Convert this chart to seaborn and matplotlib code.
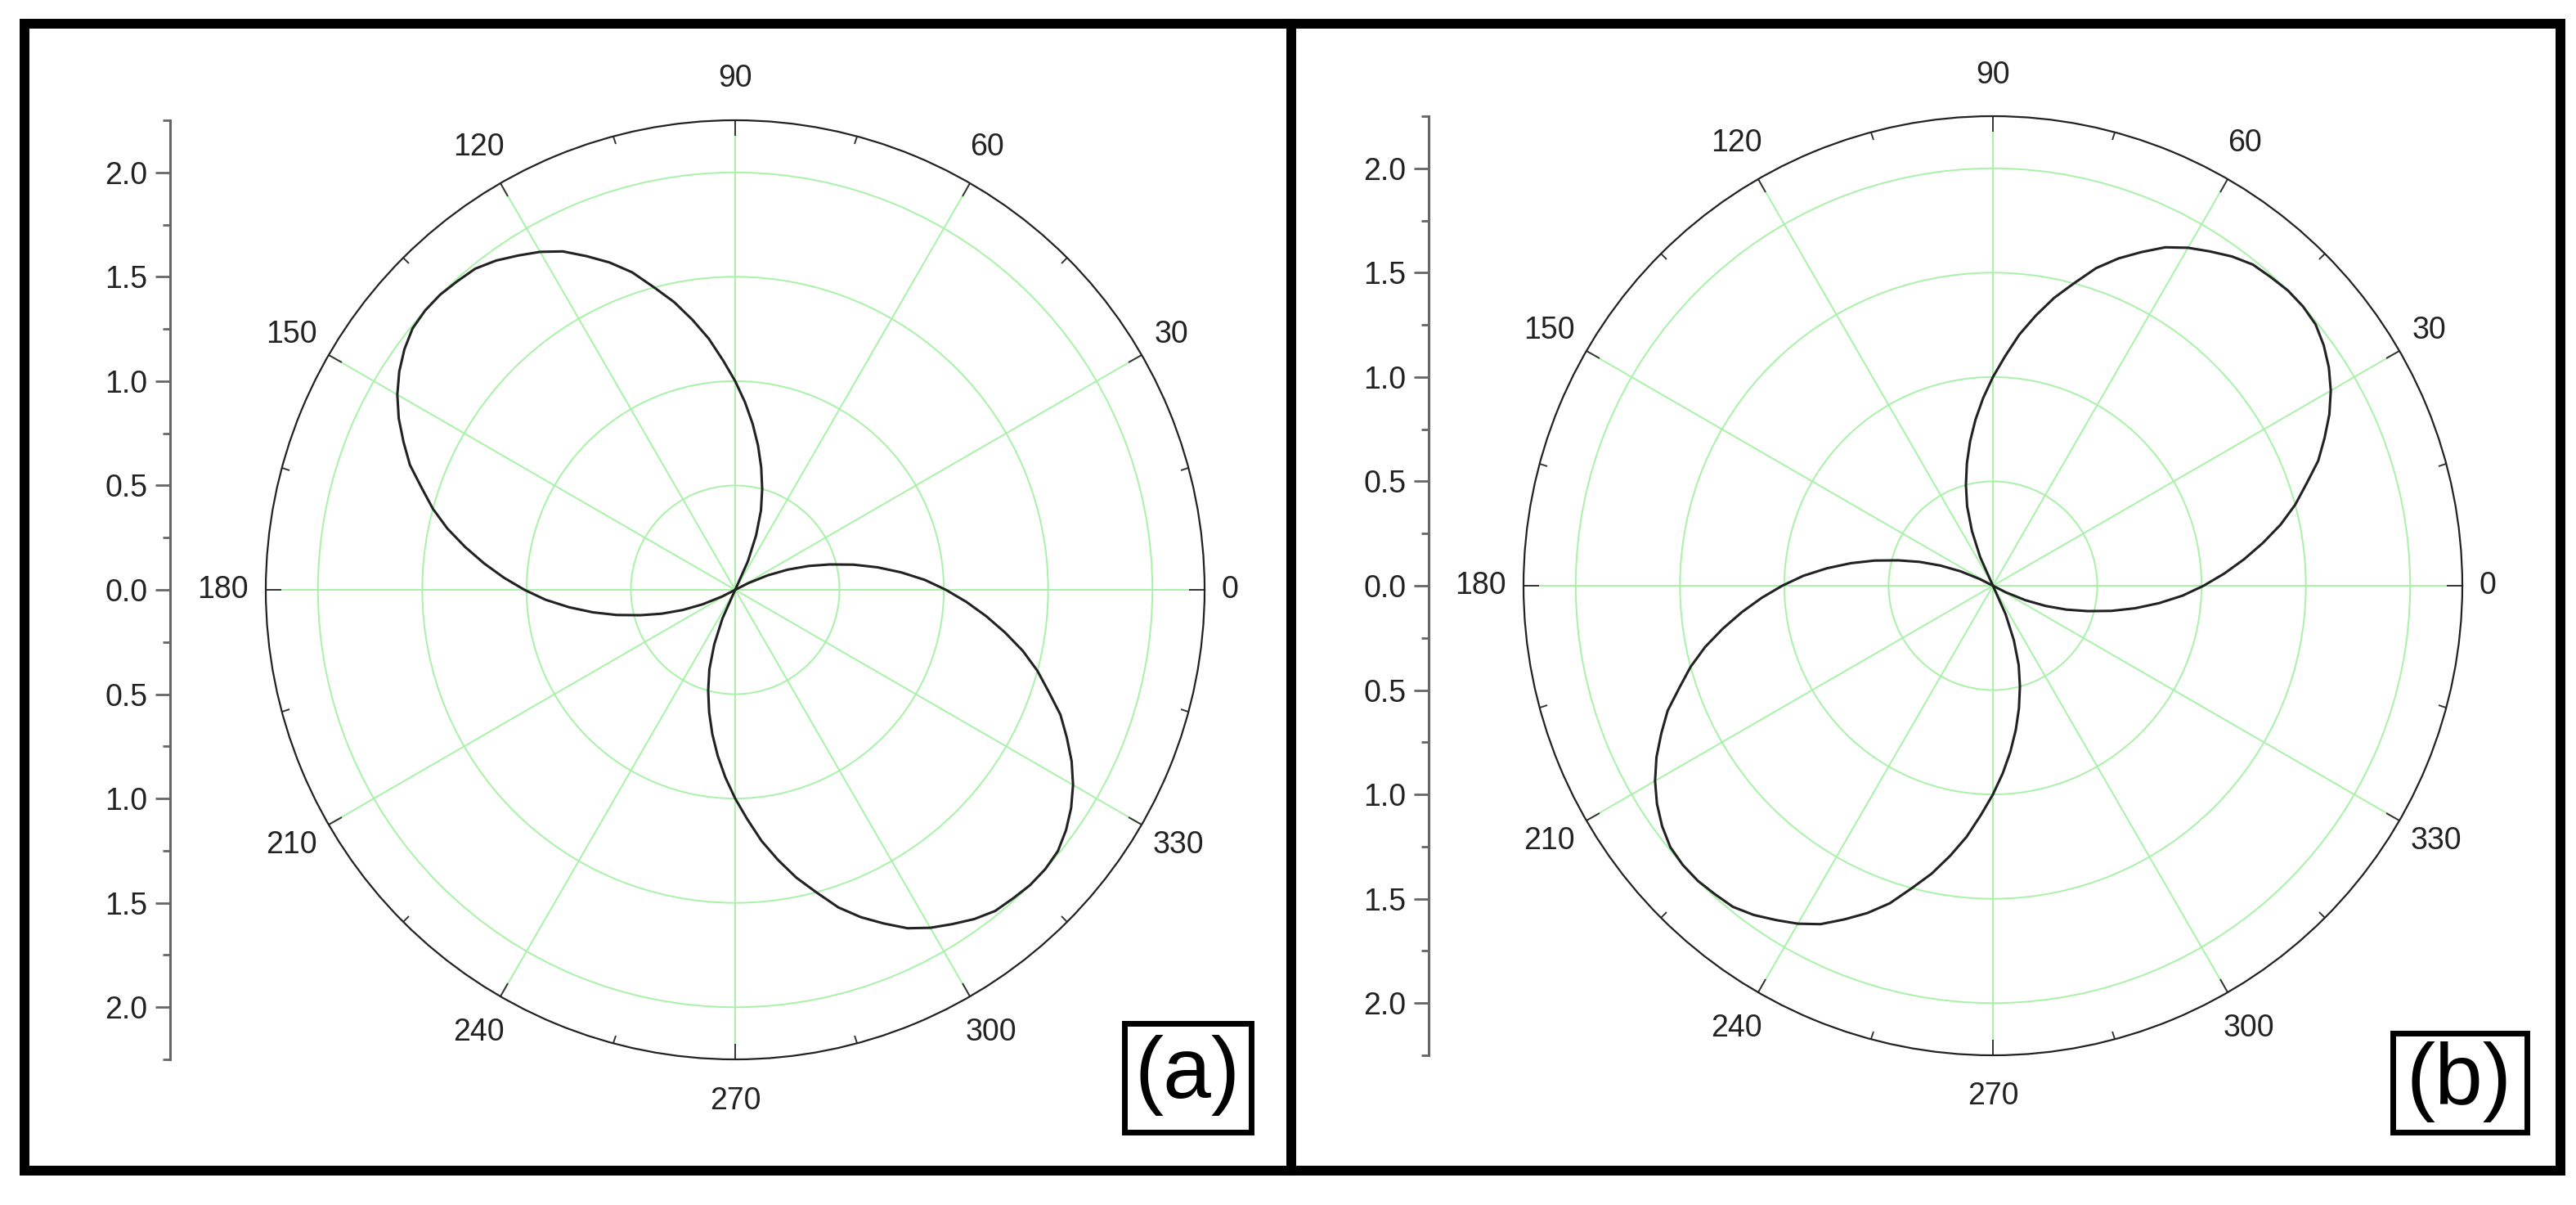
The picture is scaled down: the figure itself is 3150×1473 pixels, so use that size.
import numpy as np
import matplotlib
matplotlib.use('Agg')
import matplotlib.pyplot as plt
import seaborn as sns
from matplotlib.patches import Rectangle
from matplotlib.lines import Line2D

# lobe of panel (a): angle (deg) and radius
theta_a = [63, 66, 69, 72, 75, 78, 81, 84, 87, 90, 93, 96, 99, 102, 105, 108, 111,
           114, 117, 120, 123, 126, 129, 132, 135, 138, 141, 144, 147, 150, 153, 156,
           159, 162, 165, 168, 171, 174, 177, 180, 183, 186, 189, 192, 195, 198, 201,
           204, 207, 210]
r_a = [0.00, 0.15, 0.28, 0.40, 0.50, 0.60, 0.70, 0.80, 0.90, 1.00, 1.10, 1.21, 1.31,
       1.41, 1.50, 1.60, 1.68, 1.75, 1.82, 1.87, 1.91, 1.95, 1.98, 1.99, 2.00, 2.00,
       1.99, 1.96, 1.92, 1.87, 1.81, 1.74, 1.67, 1.58, 1.50, 1.41, 1.31, 1.21, 1.11,
       1.01, 0.91, 0.80, 0.69, 0.58, 0.47, 0.37, 0.27, 0.17, 0.07, 0.00]

# lobe of panel (b)
theta_b = [117, 114, 111, 108, 105, 102, 99, 96, 93, 90, 87, 84, 81, 78, 75, 72, 69,
           66, 63, 60, 57, 54, 51, 48, 45, 42, 39, 36, 33, 30, 27, 24, 21, 18, 15, 12,
           9, 6, 3, 0, -3, -6, -9, -12, -15, -18, -21, -24, -27, -30]
r_b = [0.00, 0.15, 0.28, 0.40, 0.50, 0.60, 0.70, 0.80, 0.90, 1.00, 1.10, 1.21, 1.31,
       1.41, 1.50, 1.60, 1.68, 1.75, 1.82, 1.87, 1.91, 1.95, 1.98, 1.99, 2.00, 2.00,
       1.99, 1.96, 1.92, 1.87, 1.81, 1.74, 1.67, 1.58, 1.50, 1.41, 1.31, 1.21, 1.11,
       1.01, 0.91, 0.80, 0.69, 0.58, 0.47, 0.37, 0.27, 0.17, 0.07, 0.00]

angle_ticks = [0, 30, 60, 90, 120, 150, 180, 210, 240, 270, 300, 330]
angle_labels = ['0', '30', '60', '90', '120', '150', '180', '210', '240', '270', '300', '330']
angle_minor = [15, 45, 75, 105, 135, 165, 195, 225, 255, 285, 315, 345]
ring_ticks = [0.5, 1.0, 1.5, 2.0]
scale_ticks = [-2.0, -1.5, -1.0, -0.5, 0.0, 0.5, 1.0, 1.5, 2.0]
scale_labels = ['2.0', '1.5', '1.0', '0.5', '0.0', '0.5', '1.0', '1.5', '2.0']
scale_minor = [-2.25, -1.75, -1.25, -0.75, -0.25, 0.25, 0.75, 1.25, 1.75, 2.25]
R_MAX = 2.25

plt.rcParams['font.family'] = ['Liberation Sans', 'DejaVu Sans']

W, H = 3150, 1473
R = 574  # circle radius in px
FS = 27
FS_PX = FS * 100 / 72
GREEN = '#a8f2a8'
TXT = '#222222'
AXGRAY = '#666666'

fig = plt.figure(figsize=(W / 100, H / 100), dpi=100)
fig.patch.set_facecolor('white')


def fx(px):
    return px / W


def fy(py):
    return 1 - py / H


def draw_panel(cx, cy, scale_x, theta, r, tag, box, tag_xy):
    ax = fig.add_axes([fx(cx - R), fy(cy + R), 2 * R / W, 2 * R / H], projection='polar')
    ax.set_facecolor('none')
    ax.set_ylim(0, R_MAX)
    ax.set_yticks(ring_ticks)
    ax.set_yticklabels([])
    ax.set_xticks(np.deg2rad(angle_ticks))
    ax.set_xticklabels([])
    ax.set_xticks(np.deg2rad(angle_minor), minor=True)
    ax.grid(True, which='major', color=GREEN, lw=1.4)
    # "top" ticks sit on the outer circle of a polar axes
    ax.tick_params(axis='x', which='both', bottom=False, top=True)
    ax.tick_params(axis='x', which='major', direction='in', length=13.5, width=1.4, color='#333333')
    ax.tick_params(axis='x', which='minor', direction='in', length=7, width=1.4, color='#333333')
    ax.tick_params(axis='y', length=0)
    ax.spines['polar'].set_color('#222222')
    ax.spines['polar'].set_linewidth(1.6)

    # two lobes, the second one is the first turned by 180 deg
    for shift in (0, 180):
        sns.lineplot(x=np.deg2rad(np.array(theta) + shift), y=r, ax=ax, sort=False,
                     estimator=None, color='#222222', lw=2.2)
    ax.set_xlabel('')
    ax.set_ylabel('')

    for a, lab in zip(angle_ticks, angle_labels):
        w = len(lab) * 0.556 * FS_PX
        c, s = np.cos(np.deg2rad(a)), np.sin(np.deg2rad(a))
        dx = c * (21 + w / 2)
        dy = s * (37 + 0.36 * FS_PX)
        ax.annotate(lab, xy=(np.deg2rad(a), R_MAX), xytext=(dx * 0.72, dy * 0.72),
                    textcoords='offset points', ha='center', va='center',
                    fontsize=FS, color=TXT, annotation_clip=False)

    # left scale bar
    sx = fig.add_axes([fx(scale_x), fy(cy + R), 0.0005, 2 * R / H])
    sx.set_ylim(-R_MAX, R_MAX)
    sx.set_yticks(scale_ticks)
    sx.set_yticklabels(scale_labels)
    sx.set_yticks(scale_minor, minor=True)
    sx.set_xticks([])
    for side in ('top', 'right', 'bottom'):
        sx.spines[side].set_visible(False)
    sx.spines['left'].set_color(AXGRAY)
    sx.spines['left'].set_linewidth(2.2)
    sx.tick_params(axis='y', which='major', direction='out', length=13, width=2,
                   color=AXGRAY, labelsize=FS, labelcolor=TXT, pad=7)
    sx.tick_params(axis='y', which='minor', direction='out', length=6.5, width=2, color=AXGRAY)
    sx.patch.set_visible(False)

    x0, y0, x1, y1 = box
    fig.add_artist(Rectangle((fx(x0), fy(y1)), (x1 - x0) / W, (y1 - y0) / H,
                             transform=fig.transFigure, fill=False, lw=5, ec='black'))
    fig.text(fx(tag_xy[0]), fy(tag_xy[1]), tag, ha='center', va='center',
             fontsize=76, color='black')


draw_panel(899, 721, 208, theta_a, r_a, '(a)', (1374.5, 1250.5, 1529.5, 1383.5), (1452, 1315))
draw_panel(2437, 716, 1747, theta_b, r_b, '(b)', (2925.5, 1262.5, 3089.5, 1383.5), (3007, 1323))

# outer frame and divider
fig.add_artist(Rectangle((fx(30), fy(1431)), (3131 - 30) / W, (1431 - 29) / H,
                         transform=fig.transFigure, fill=False, lw=8.6, ec='black',
                         joinstyle='miter'))
fig.add_artist(Line2D([fx(1579), fx(1579)], [fy(29), fy(1431)], transform=fig.transFigure,
                      color='black', lw=8.6))

fig.savefig('out.png', dpi=100)
